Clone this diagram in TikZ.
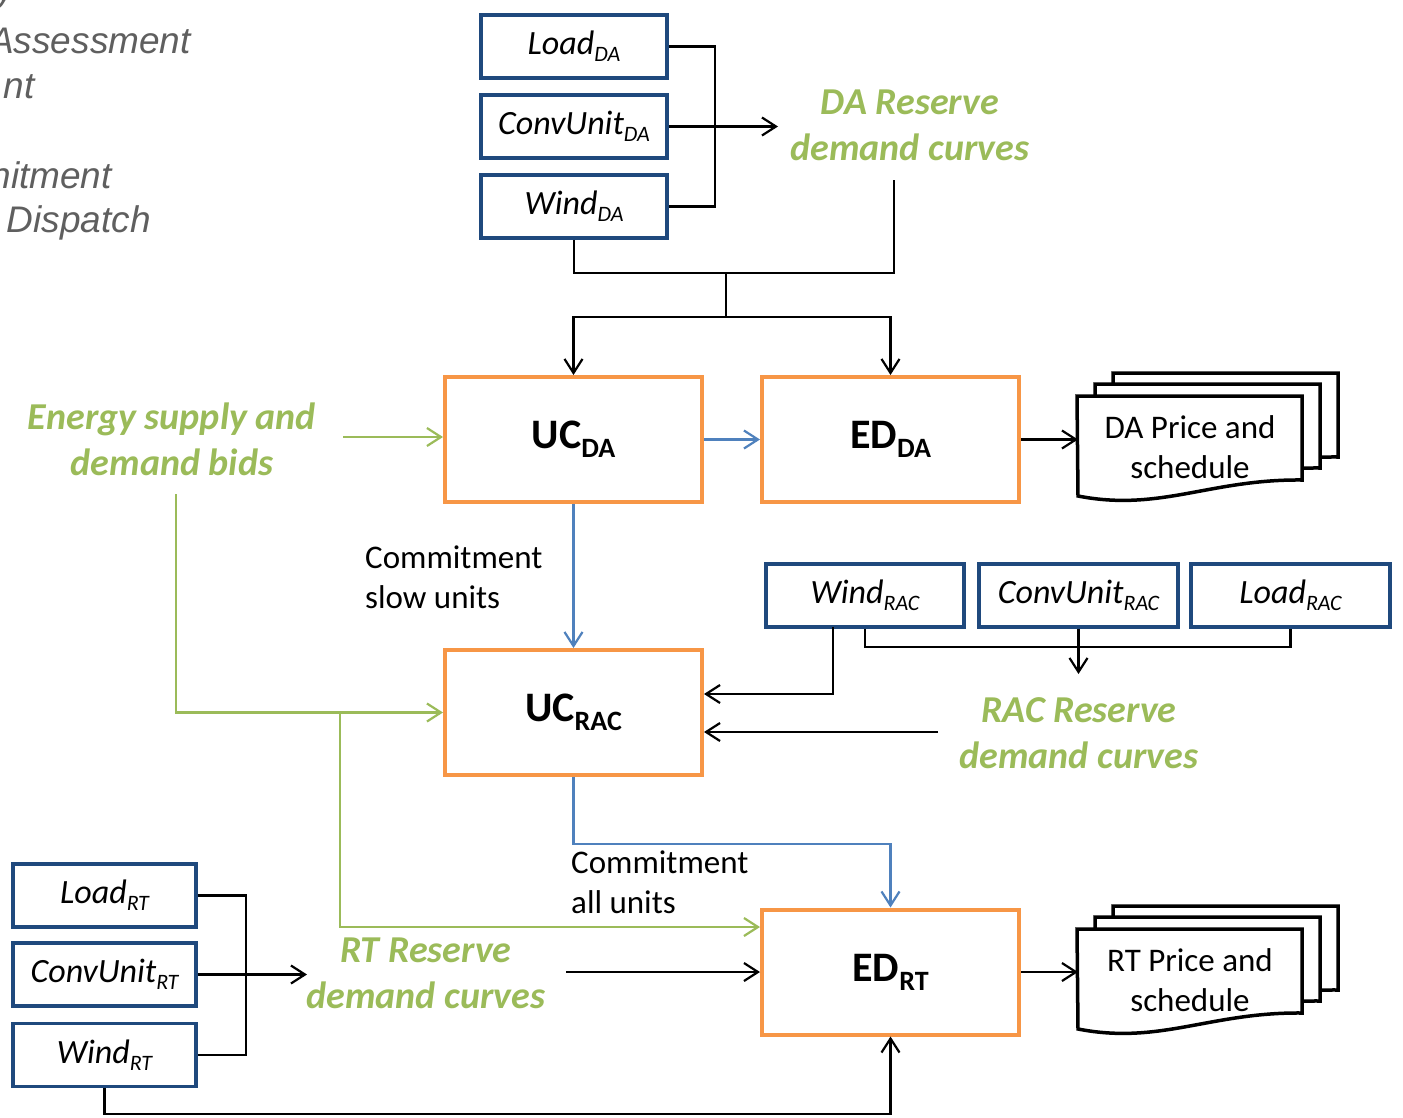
\documentclass[tikz,border=0pt]{standalone}
\usepackage{fontspec}
\setmainfont{Carlito}
\newfontfamily\grayfont{Liberation Sans}
\usetikzlibrary{arrows.meta}
\definecolor{boxblue}{HTML}{1F497D}
\definecolor{procorange}{HTML}{F79646}
\definecolor{resgreen}{HTML}{9BBB59}
\definecolor{arrblue}{HTML}{4F81BD}
\definecolor{txtgray}{HTML}{5F5F5F}
\newcommand\isub[1]{\raisebox{-7pt}{\fontsize{22}{22}\selectfont\itshape #1}}
\newcommand\bsub[1]{\raisebox{-9pt}{\fontsize{28}{28}\selectfont\bfseries #1}}
\newcommand\mydoc[1]{%
  \foreach \dx/\dy in {36/-23,18/-12,0/0}{%
    \draw[docline, shift={(\dx,\dy+#1)}] (1077,396) -- (1302,396) -- (1302,480)
      .. controls (1210,479) and (1160,512) .. (1078,496) -- cycle;
  }%
}
\tikzset{
  inbox/.style={draw=boxblue, line width=3.5pt, minimum width=186pt, minimum height=63pt,
    inner sep=0pt, font=\fontsize{34}{40}\selectfont\itshape},
  procbox/.style={draw=procorange, line width=4pt, minimum width=257pt, minimum height=125pt,
    inner sep=0pt, font=\fontsize{42}{50}\selectfont\bfseries},
  greentext/.style={text=resgreen, align=center, inner sep=0pt,
    font=\fontsize{38}{46}\selectfont\bfseries\itshape},
  plaintext/.style={align=left, inner sep=0pt, font=\fontsize{33}{40}\selectfont},
  doctext/.style={align=center, inner sep=0pt, font=\fontsize{33}{40}\selectfont},
  graytext/.style={text=txtgray, inner sep=0pt, font=\grayfont\itshape\fontsize{37}{42}\selectfont},
  docline/.style={draw=black, fill=white, line width=3.5pt, line join=miter},
  conn/.style={draw=black, line width=2.2pt},
  bconn/.style={draw=arrblue, line width=2.2pt},
  gconn/.style={draw=resgreen, line width=2.2pt},
  arr/.style={-{Straight Barb[length=14pt,width=18pt]}}
}
\begin{document}
\begin{tikzpicture}[x=1pt,y=-1pt]
\clip (0,0) rectangle (1403,1117);
\fill[white] (0,0) rectangle (1403,1117);

% top-left clipped legend text
\node[graytext, anchor=base west] (tl0) at (-4,1) {y};
\node[graytext, anchor=base east] (tl1) at (191,53) {Assessment};
\node[graytext, anchor=base east] (tl2) at (35,98) {nt};
\node[graytext, anchor=base east] (tl3) at (112,188) {nitment};
\node[graytext, anchor=base east] (tl4) at (151,232) {Dispatch};

% DA inputs
\node[inbox] (loadDA) at (574,46.5) {Load\isub{DA}};
\node[inbox] (convDA) at (574,126.5) {ConvUnit\isub{DA}};
\node[inbox] (windDA) at (574,206.5) {Wind\isub{DA}};
\node[greentext] (daRes) at (910,125) {DA Reserve\\demand curves};
\coordinate (daj) at (715,126.5);
\coordinate (daArr) at (778,126.5);
\coordinate (daResB) at (894,180);
\coordinate (daTop) at (726,273);
\coordinate (daSplit) at (726,317);

% DA processes
\node[procbox] (ucDA) at (573.5,439.5) {UC\bsub{DA}};
\node[procbox] (edDA) at (890.5,439.5) {ED\bsub{DA}};
\coordinate (daDocIn) at (1078,439.5);
\mydoc{0}
\node[doctext] (daDoc) at (1190,447) {DA Price and\\schedule};

% bids
\node[greentext] (bids) at (172,439) {Energy supply and\\demand bids};
\coordinate (bidsOut) at (343,437);
\coordinate (bidsDown) at (176,494);
\coordinate (gj) at (340,712.5);

\node[plaintext, anchor=west] (slow) at (365,577) {Commitment\\slow units};

% RAC
\node[procbox] (ucRAC) at (573.5,712.5) {UC\bsub{RAC}};
\node[inbox, minimum width=198pt] (windRAC) at (865,595.5) {Wind\isub{RAC}};
\node[inbox, minimum width=199pt] (convRAC) at (1078.5,595.5) {ConvUnit\isub{RAC}};
\node[inbox, minimum width=199pt] (loadRAC) at (1290.5,595.5) {Load\isub{RAC}};
\coordinate (windRACo) at (833,627);
\coordinate (racj) at (1078.5,647);
\coordinate (racArr) at (1078.5,674);
\node[greentext] (racRes) at (1079,733) {RAC Reserve\\demand curves};
\coordinate (racOut) at (938,732);

% RT
\node[procbox] (edRT) at (890.5,972) {ED\bsub{RT}};
\node[plaintext, anchor=west] (allu) at (571,882) {Commitment\\all units};
\node[inbox, minimum width=183pt] (loadRT) at (104.5,895.5) {Load\isub{RT}};
\node[inbox, minimum width=183pt] (convRT) at (104.5,974.5) {ConvUnit\isub{RT}};
\node[inbox, minimum width=183pt] (windRT) at (104.5,1055) {Wind\isub{RT}};
\coordinate (rtj) at (246,974.5);
\coordinate (rtArr) at (307,974.5);
\node[greentext] (rtRes) at (426,973) {RT Reserve\\demand curves};
\coordinate (rtOut) at (566,972);
\coordinate (rtDocIn) at (1078,972);
\mydoc{533}
\node[doctext] (rtDoc) at (1190,980) {RT Price and\\schedule};

% connectors DA
\draw[conn] (loadDA.east) -| (daj) |- (windDA.east);
\draw[conn] (convDA.east) -- (daj);
\draw[conn,arr] (daj) -- (daArr);
\draw[conn] (windDA.south) |- (daTop) -| (daResB);
\draw[conn] (daTop) -- (daSplit);
\draw[conn,arr] (daSplit) -| (ucDA.north);
\draw[conn,arr] (daSplit) -| (edDA.north);
\draw[bconn,arr] (ucDA.east) -- (edDA.west);
\draw[conn,arr] (edDA.east) -- (daDocIn);

% green
\draw[gconn,arr] (bidsOut) -- (ucDA.west |- bidsOut);
\draw[gconn,arr] (bidsDown) |- (ucRAC.west);
\draw[gconn,arr] (gj) |- ([yshift=45pt]edRT.west);

% blue commitments
\draw[bconn,arr] (ucDA.south) -- (ucRAC.north);
\draw[bconn,arr] (ucRAC.south) -- ++(0,67) -| (edRT.north);

% RAC
\draw[conn,arr] (windRACo) |- ([yshift=18.5pt]ucRAC.east);
\draw[conn] (windRAC.south) |- (racj) -| (loadRAC.south);
\draw[conn,arr] (convRAC.south) -- (racArr);
\draw[conn,arr] (racOut) -- (ucRAC.east |- racOut);

% RT
\draw[conn] (loadRT.east) -| (rtj) |- (windRT.east);
\draw[conn] (convRT.east) -- (rtj);
\draw[conn,arr] (rtj) -- (rtArr);
\draw[conn,arr] (rtOut) -- (edRT.west);
\draw[conn,arr] (windRT.south) -- ++(0,26) -| (edRT.south);
\draw[conn,arr] (edRT.east) -- (rtDocIn);
\end{tikzpicture}
\end{document}
